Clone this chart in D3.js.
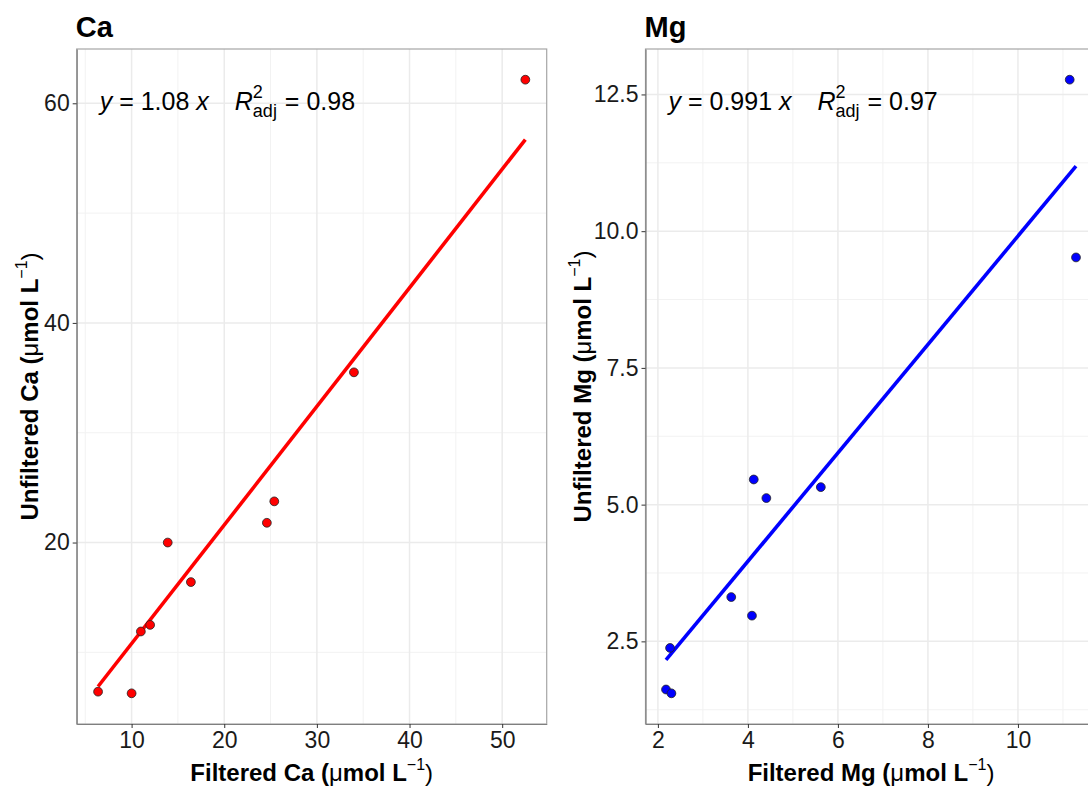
<!DOCTYPE html>
<html>
<head>
<meta charset="utf-8">
<script src="https://cdn.jsdelivr.net/npm/d3@7"></script>
<style>
  html, body { margin: 0; padding: 0; background: #fff; overflow: hidden; }
  svg { display: block; font-family: "Liberation Sans", Arial, Helvetica, sans-serif; }
  text { white-space: pre; }
</style>
</head>
<body>
<svg id="chart" width="1088" height="793"></svg>
<script>
// ---- data ----
const caFiltered   = [6.38, 10.0, 11.0, 12.0, 13.9, 16.4, 24.6, 25.4, 34.0, 52.5];
const caUnfiltered = [6.42, 6.27, 11.9, 12.5, 20.0, 16.4, 21.8, 23.75, 35.5, 62.15];
const mgFiltered   = [2.18, 2.30, 2.27, 3.63, 4.09, 4.13, 4.41, 5.62, 11.15, 11.29];
const mgUnfiltered = [1.62, 1.55, 2.38, 3.31, 2.97, 5.46, 5.12, 5.32, 12.77, 9.52];
const caSlope = 1.08, caR2 = "0.98", caSlopeLabel = "1.08";
const mgSlope = 0.991, mgR2 = "0.97", mgSlopeLabel = "0.991";
const caXTicks = [10, 20, 30, 40, 50];
const caYTicks = [20, 40, 60];
const caXMinor = [5, 15, 25, 35, 45];
const caYMinor = [10, 30, 50];
const mgXTicks = [2, 4, 6, 8, 10];
const mgYTicks = [2.5, 5.0, 7.5, 10.0, 12.5];
const mgXMinor = [3, 5, 7, 9, 11];
const mgYMinor = [1.25, 3.75, 6.25, 8.75, 11.25];

const svg = d3.select("#chart");

function expand(arr) {
  const [a, b] = d3.extent(arr);
  const p = (b - a) * 0.05;
  return [a - p, b + p];
}

function panel(cfg) {
  const { left, right, top, bottom } = cfg;
  const x = d3.scaleLinear().domain(expand(cfg.xs)).range([left, right]);
  const y = d3.scaleLinear().domain(expand(cfg.ys)).range([bottom, top]);
  const g = svg.append("g");

  // grid minor
  g.selectAll(".gxm").data(cfg.xMinor).join("line")
    .attr("x1", d => x(d)).attr("x2", d => x(d)).attr("y1", top).attr("y2", bottom)
    .attr("stroke", "#F2F2F2").attr("stroke-width", 1);
  g.selectAll(".gym").data(cfg.yMinor).join("line")
    .attr("y1", d => y(d)).attr("y2", d => y(d)).attr("x1", left).attr("x2", right)
    .attr("stroke", "#F2F2F2").attr("stroke-width", 1);
  // grid major
  g.selectAll(".gx").data(cfg.xTicks).join("line")
    .attr("x1", d => x(d)).attr("x2", d => x(d)).attr("y1", top).attr("y2", bottom)
    .attr("stroke", "#EBEBEB").attr("stroke-width", 1.5);
  g.selectAll(".gy").data(cfg.yTicks).join("line")
    .attr("y1", d => y(d)).attr("y2", d => y(d)).attr("x1", left).attr("x2", right)
    .attr("stroke", "#EBEBEB").attr("stroke-width", 1.5);

  // border
  g.append("rect").attr("x", left).attr("y", top)
    .attr("width", right - left).attr("height", bottom - top)
    .attr("fill", "none").attr("stroke", "#A6A6A6").attr("stroke-width", 1.2);

  // axes
  const ax = g.append("g").attr("transform", `translate(0,${bottom})`)
    .call(d3.axisBottom(x).tickValues(cfg.xTicks).tickSizeInner(4).tickSizeOuter(0).tickPadding(4).tickFormat(cfg.xFmt));
  const ay = g.append("g").attr("transform", `translate(${left},0)`)
    .call(d3.axisLeft(y).tickValues(cfg.yTicks).tickSizeInner(4).tickSizeOuter(0).tickPadding(3).tickFormat(cfg.yFmt));
  [ax, ay].forEach(a => {
    a.select(".domain").attr("stroke", "#7F7F7F").attr("stroke-width", 1.2);
    a.selectAll(".tick line").attr("stroke", "#333").attr("stroke-width", 1);
    a.selectAll(".tick text").attr("fill", "#1A1A1A").style("font-size", "23px")
      .style("font-family", '"Liberation Sans", Arial, sans-serif');
  });

  // regression line
  const [x0, x1] = d3.extent(cfg.xs);
  g.append("line")
    .attr("x1", x(x0)).attr("y1", y(x0 * cfg.slope))
    .attr("x2", x(x1)).attr("y2", y(x1 * cfg.slope))
    .attr("stroke", cfg.color).attr("stroke-width", 3.6);

  // points
  g.selectAll(".pt").data(cfg.xs.map((d, i) => [d, cfg.ys[i]])).join("circle")
    .attr("cx", d => x(d[0])).attr("cy", d => y(d[1])).attr("r", 4.4)
    .attr("fill", cfg.color).attr("stroke", "#222").attr("stroke-width", 0.8);

  // title
  svg.append("text").attr("x", left - 1).attr("y", 37)
    .attr("font-size", 29).attr("font-weight", "bold").attr("fill", "#000").text(cfg.title);

  // equation annotation
  const ann = svg.append("g");
  let cx = left + 23;
  const base = 110;
  function piece(txt, opts = {}) {
    const t = ann.append("text").attr("x", cx).attr("y", opts.y || base)
      .attr("font-size", opts.size || 25).attr("fill", "#000")
      .style("font-style", opts.italic ? "italic" : "normal").text(txt);
    return t.node().getComputedTextLength();
  }
  cx += piece("y", { italic: true });
  cx += piece(` = ${cfg.slopeLabel} `);
  cx += piece("x", { italic: true });
  cx += 26;
  cx += piece("R", { italic: true });
  const w2 = piece("2", { size: 18, y: base - 12 });
  const wa = piece("adj", { size: 18, y: base + 7 });
  cx += Math.max(w2, wa) + 1;
  piece(` = ${cfg.r2}`);

  // axis titles
  const xt = svg.append("text").attr("x", (left + right) / 2)
    .attr("y", 781).attr("text-anchor", "middle").attr("font-size", 24).attr("font-weight", "bold");
  xt.append("tspan").text(`Filtered ${cfg.el} (`);
  xt.append("tspan").attr("font-weight", "normal").text("μ");
  xt.append("tspan").text("mol L");
  xt.append("tspan").attr("font-size", 16).attr("font-weight", "normal").attr("dy", -11).text("−1");
  xt.append("tspan").attr("dy", 11).attr("font-weight", "normal").text(")");

  const yt = svg.append("text")
    .attr("transform", `translate(${cfg.ytx},${(top + bottom) / 2}) rotate(-90)`)
    .attr("text-anchor", "middle").attr("font-size", 24).attr("font-weight", "bold");
  yt.append("tspan").text(`Unfiltered ${cfg.el} (`);
  yt.append("tspan").attr("font-weight", "normal").text("μ");
  yt.append("tspan").text("mol L");
  yt.append("tspan").attr("font-size", 16).attr("font-weight", "normal").attr("dy", -11).text("−1");
  yt.append("tspan").attr("dy", 11).attr("font-weight", "normal").text(")");
}

panel({
  title: "Ca", el: "Ca", xs: caFiltered, ys: caUnfiltered, slope: caSlope,
  slopeLabel: caSlopeLabel, r2: caR2, color: "#FF0000",
  left: 76.7, right: 546.7, top: 49, bottom: 724,
  xTicks: caXTicks, yTicks: caYTicks, xMinor: caXMinor, yMinor: caYMinor,
  xFmt: d3.format("d"), yFmt: d3.format("d"), ytx: 38
});
panel({
  title: "Mg", el: "Mg", xs: mgFiltered, ys: mgUnfiltered, slope: mgSlope,
  slopeLabel: mgSlopeLabel, r2: mgR2, color: "#0000FF",
  left: 645.5, right: 1096.5, top: 49, bottom: 724,
  xTicks: mgXTicks, yTicks: mgYTicks, xMinor: mgXMinor, yMinor: mgYMinor,
  xFmt: d3.format("d"), yFmt: d3.format(".1f"), ytx: 591
});
</script>
</body>
</html>
